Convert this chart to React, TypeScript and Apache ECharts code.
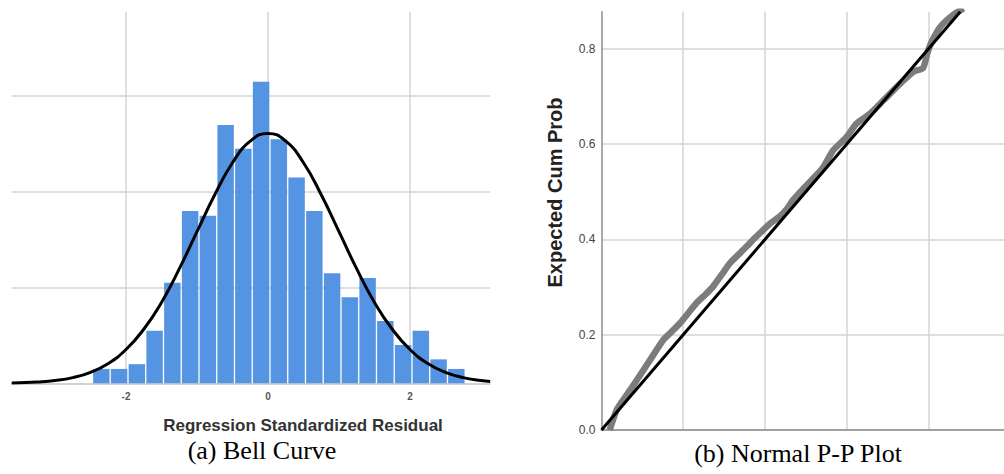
import React, { useEffect, useRef } from "react";
import * as echarts from "echarts";

// ---- Histogram (a) ----
const binStart = -2.47;
const binWidth = 0.25;
const binCounts = [3, 3, 4, 11, 21, 36, 35, 54, 49, 63, 51, 43, 36, 23, 18, 22, 13, 8, 11, 5, 3];
const histXTicks = [-2, 0, 2];
const histYGrid = [20, 40, 60];

// fitted normal curve
const curveX = [-3.61, -3.5, -3.25, -3.0, -2.75, -2.5, -2.25, -2.0, -1.75, -1.5, -1.25, -1.0, -0.75, -0.5, -0.25, 0, 0.25, 0.5, 0.75, 1.0, 1.25, 1.5, 1.75, 2.0, 2.25, 2.5, 2.75, 3.0, 3.13];
const curveY = [0.08, 0.11, 0.27, 0.58, 1.19, 2.29, 4.15, 7.06, 11.3, 16.9, 23.9, 31.7, 39.4, 46.1, 50.6, 52.2, 50.6, 46.1, 39.4, 31.7, 23.9, 16.9, 11.3, 7.06, 4.15, 2.29, 1.19, 0.58, 0.39];

// ---- P-P plot (b) ----
const observedCum = [0.020, 0.037, 0.053, 0.075, 0.102, 0.125, 0.151, 0.170, 0.192, 0.212, 0.232, 0.255, 0.273, 0.295, 0.314, 0.335, 0.355, 0.375, 0.396, 0.415, 0.436, 0.452, 0.469, 0.490, 0.518, 0.543, 0.567, 0.600, 0.624, 0.657, 0.690, 0.731, 0.763, 0.787, 0.797, 0.808, 0.829, 0.860, 0.886];
const expectedCum = [0.0, 0.042, 0.063, 0.090, 0.125, 0.155, 0.189, 0.205, 0.224, 0.245, 0.266, 0.285, 0.301, 0.327, 0.350, 0.368, 0.385, 0.403, 0.420, 0.435, 0.448, 0.462, 0.483, 0.503, 0.528, 0.552, 0.587, 0.615, 0.643, 0.664, 0.692, 0.727, 0.752, 0.760, 0.790, 0.815, 0.846, 0.871, 0.885];
const refLine = [[0, 0], [0.878, 0.878]];
const ppYTicks = [0, 0.2, 0.4, 0.6, 0.8];
const ppXGrid = [0.2, 0.4, 0.6, 0.8];

const barColor = "#5494e2";
const gridColor = "#d4d4d4";

export default function App() {
  const ref = useRef<HTMLDivElement>(null);
  useEffect(() => {
    if (!ref.current) return;
    const chart = echarts.init(ref.current, undefined, { renderer: "svg" });
    const histData = binCounts.map((c, i) => [binStart + i * binWidth, binStart + (i + 1) * binWidth, c]);
    const curveData = curveX.map((x, i) => [x, curveY[i]]);
    const ppData = observedCum.map((x, i) => [x, expectedCum[i]]);
    const sans = "Liberation Sans, Arial, sans-serif";
    const serif = "Liberation Serif, Times New Roman, serif";

    chart.setOption({
      animation: false,
      backgroundColor: "#ffffff",
      grid: [
        { left: 11.7, top: 12, width: 478.3, height: 371.3 },
        { left: 601.5, top: 11.7, width: 402.5, height: 418.3 },
      ],
      xAxis: [
        {
          type: "value",
          gridIndex: 0,
          min: -3.61,
          max: 3.127,
          axisLine: { show: true, lineStyle: { color: "#c4c4c4", width: 1.5 } },
          axisTick: { show: false, customValues: histXTicks },
          axisLabel: {
            customValues: histXTicks,
            color: "#555",
            fontSize: 10,
            fontWeight: "bold",
            fontFamily: sans,
            margin: 8,
          },
          splitLine: { show: true, lineStyle: { color: gridColor, width: 1.5 } },
        },
        {
          type: "value",
          gridIndex: 1,
          min: 0,
          max: 0.985,
          axisLine: { show: true, lineStyle: { color: "#8c8c8c", width: 1.5 } },
          axisTick: { show: false, customValues: ppXGrid },
          axisLabel: { show: false },
          splitLine: { show: true, lineStyle: { color: gridColor, width: 1.5 } },
        },
      ],
      yAxis: [
        {
          type: "value",
          gridIndex: 0,
          min: 0,
          max: 77.6,
          axisLine: { show: false },
          axisTick: { show: false, customValues: histYGrid },
          axisLabel: { show: false },
          splitLine: { show: true, lineStyle: { color: gridColor, width: 1.5 } },
        },
        {
          type: "value",
          gridIndex: 1,
          min: 0,
          max: 0.878,
          axisLine: { show: true, lineStyle: { color: "#8c8c8c", width: 1.5 } },
          axisTick: { show: false, customValues: ppYTicks },
          axisLabel: {
            customValues: ppYTicks,
            formatter: (v: number) => v.toFixed(1),
            color: "#444",
            fontSize: 12,
            fontFamily: sans,
            margin: 6,
          },
          splitLine: { show: true, lineStyle: { color: gridColor, width: 1.5 } },
        },
      ],
      series: [
        {
          type: "custom",
          xAxisIndex: 0,
          yAxisIndex: 0,
          z: 2,
          data: histData,
          encode: { x: [0, 1], y: 2 },
          renderItem: (params: any, api: any) => {
            const x0 = api.value(0);
            const x1 = api.value(1);
            const h = api.value(2);
            const p0 = api.coord([x0, h]);
            const p1 = api.coord([x1, 0]);
            return {
              type: "rect",
              shape: { x: p0[0] + 0.5, y: p0[1], width: p1[0] - p0[0] - 1.3, height: p1[1] - p0[1] },
              style: { fill: barColor },
            };
          },
        },
        {
          type: "line",
          xAxisIndex: 0,
          yAxisIndex: 0,
          z: 3,
          data: curveData,
          smooth: true,
          showSymbol: false,
          symbol: "none",
          lineStyle: { color: "#000", width: 3 },
        },
        {
          type: "line",
          xAxisIndex: 1,
          yAxisIndex: 1,
          z: 3,
          data: ppData,
          smooth: 0.2,
          symbol: "none",
          clip: true,
          lineStyle: { color: "#7c7c7c", width: 6.5 },
        },
        {
          type: "line",
          xAxisIndex: 1,
          yAxisIndex: 1,
          z: 4,
          data: refLine,
          symbol: "none",
          lineStyle: { color: "#000", width: 3 },
        },
      ],
      graphic: [
        {
          type: "text",
          x: 303,
          y: 425,
          style: {
            text: "Regression Standardized Residual",
            font: `bold 17px ${sans}`,
            fill: "#333",
            textAlign: "center",
            textVerticalAlign: "middle",
          },
        },
        {
          type: "text",
          x: 262,
          y: 450,
          style: {
            text: "(a) Bell Curve",
            font: `26px ${serif}`,
            fill: "#000",
            textAlign: "center",
            textVerticalAlign: "middle",
          },
        },
        {
          type: "text",
          x: 798,
          y: 453,
          style: {
            text: "(b) Normal P-P Plot",
            font: `26px ${serif}`,
            fill: "#000",
            textAlign: "center",
            textVerticalAlign: "middle",
          },
        },
        {
          type: "text",
          x: 555,
          y: 192.5,
          rotation: Math.PI / 2,
          style: {
            text: "Expected Cum Prob",
            font: `bold 20px ${sans}`,
            fill: "#222",
            textAlign: "center",
            textVerticalAlign: "middle",
          },
        },
      ],
    });
    return () => chart.dispose();
  }, []);
  return (
    <div
      ref={ref}
      style={{ position: "absolute", left: 0, top: 0, width: 1004, height: 474, background: "#fff" }}
    />
  );
}
